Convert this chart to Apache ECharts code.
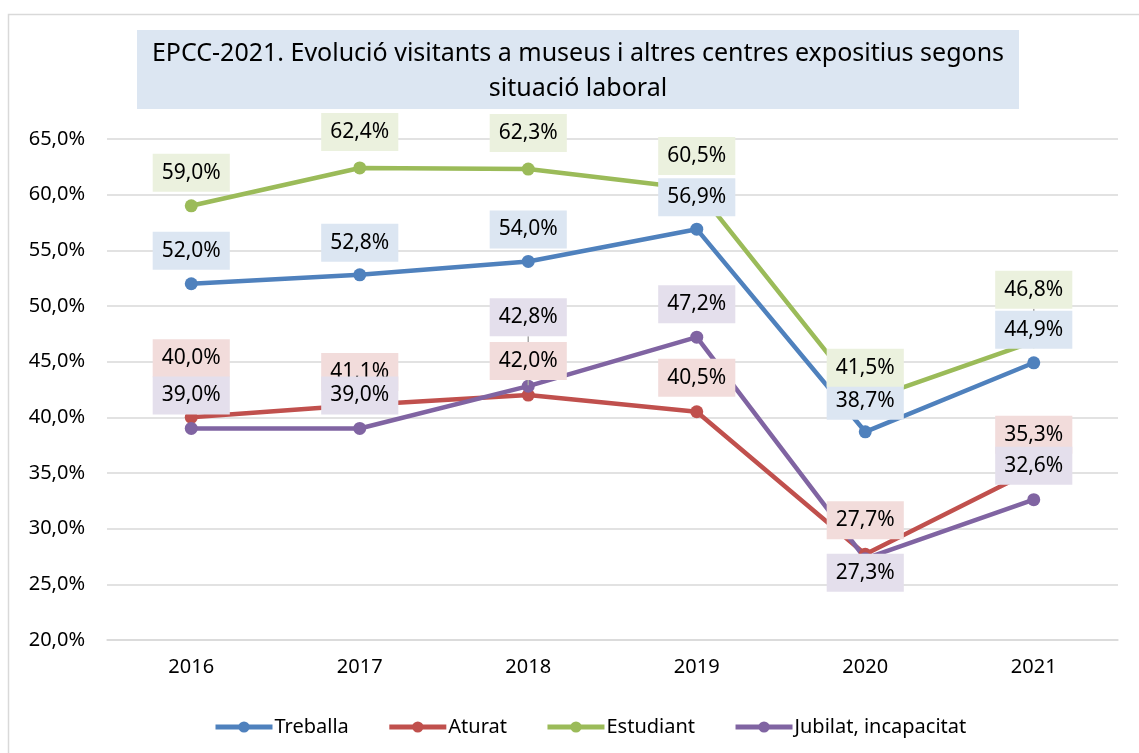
<!DOCTYPE html>
<html>
<head>
<meta charset="utf-8">
<script src="https://cdn.jsdelivr.net/npm/echarts@6/dist/echarts.min.js"></script>
<style>
html,body{margin:0;padding:0;background:#fff;}
#chart{width:1139px;height:753px;}
</style>
</head>
<body>
<div id="chart"></div>
<script>
var years = ['2016', '2017', '2018', '2019', '2020', '2021'];
var names = ['Treballa', 'Aturat', 'Estudiant', 'Jubilat, incapacitat'];
var treballa = [52.0, 52.8, 54.0, 56.9, 38.7, 44.9];
var aturat = [40.0, 41.1, 42.0, 40.5, 27.7, 35.3];
var estudiant = [59.0, 62.4, 62.3, 60.5, 41.5, 46.8];
var jubilat = [39.0, 39.0, 42.8, 47.2, 27.3, 32.6];

// colors de linia i fons d'etiqueta
var colors = ['#4F81BD', '#C0504D', '#9BBB59', '#8064A2'];
var labelBg = ['#DCE6F2', '#F2DCDB', '#EBF1DE', '#E4DFEC'];
// desplaçament vertical de cada etiqueta respecte al punt (px)
var labelDy = [
	[-33, -32, -32, -32, -31, -33],
	[-59, -33, -34, -34, -34, -35],
	[-33, -36, -36, -33, -33, -52],
	[-33, -33, -69, -33, 14, -34]
];
// etiquetes amb línia guia
var guide = [[], [], [5], [2]];

var allData = [treballa, aturat, estudiant, jubilat];

function fmt(v){
	return v.toFixed(1).replace('.', ',') + '%';
}

var font = '"Noto Sans", sans-serif';
var series = [];
// línies
for (var i = 0; i < 4; i++) {
	series.push({
		name: names[i],
		type: 'line',
		data: allData[i],
		z: 2,
		symbol: 'circle',
		symbolSize: 13,
		lineStyle: {width: 4.5, color: colors[i]},
		itemStyle: {color: colors[i]},
		label: {show: false},
		animation: false
	});
}
// etiquetes (per sobre de totes les línies)
for (var j = 0; j < 4; j++) {
	(function(s){
		var items = allData[s].map(function(v, k){
			var it = {value: [years[k], v]};
			if (guide[s].indexOf(k) >= 0) {
				it.labelLine = {show: true, lineStyle: {color: '#A6A6A6', width: 1.5}};
			}
			return it;
		});
		series.push({
			name: 'lbl' + s,
			type: 'scatter',
			data: items,
			z: 10,
			symbolSize: 2,
			itemStyle: {color: 'rgba(0,0,0,0)', opacity: 1},
			silent: true,
			label: {
				show: true,
				position: 'inside',
				formatter: function(p){ return fmt(p.value[1]); },
				fontFamily: font,
				fontSize: 21,
				lineHeight: 22,
				color: '#000',
				backgroundColor: labelBg[s],
				padding: [8, 9, 8, 9]
			},
			labelLine: {show: false, lineStyle: {color: '#A6A6A6', width: 1.5}},
			labelLayout: function(p){
				return {dy: labelDy[s][p.dataIndex]};
			},
			animation: false
		});
	})(j);
}

var chart = echarts.init(document.getElementById('chart'));
chart.setOption({
	backgroundColor: '#fff',
	animation: false,
	graphic: [
		{type: 'rect', shape: {x: 8.5, y: 14.5, width: 1200, height: 800}, style: {fill: 'none', stroke: '#D9D9D9', lineWidth: 1.5}, z: 0},
		{type: 'rect', shape: {x: 137, y: 30, width: 882, height: 79}, style: {fill: '#DCE6F2'}, z: 1},
		{type: 'text', x: 578, y: 36, z: 2, style: {
			text: 'EPCC-2021. Evolució visitants a museus i altres centres expositius segons\nsituació laboral',
			font: '25px ' + font, fill: '#000', textAlign: 'center', textVerticalAlign: 'top', lineHeight: 35
		}}
	],
	grid: {left: 107, right: 21, top: 139, bottom: 113},
	legend: {
		data: names,
		top: 712,
		left: 208,
		itemWidth: 57,
		itemHeight: 14,
		itemGap: 38,
		lineStyle: {width: 5},
		textStyle: {fontFamily: font, fontSize: 20, color: '#000', padding: [0, 0, 0, -3]}
	},
	xAxis: {
		type: 'category',
		data: years,
		boundaryGap: true,
		axisLine: {show: true, lineStyle: {color: '#D9D9D9', width: 1.5}},
		axisTick: {show: false},
		axisLabel: {fontFamily: font, fontSize: 20, color: '#000', margin: 17}
	},
	yAxis: {
		type: 'value',
		min: 20,
		max: 65,
		interval: 5,
		axisLine: {show: false},
		axisTick: {show: false},
		splitLine: {lineStyle: {color: '#D9D9D9', width: 1.5}},
		axisLabel: {fontFamily: font, fontSize: 20, color: '#000', margin: 22,
			formatter: function(v){ return fmt(v); }}
	},
	series: series
});
</script>
</body>
</html>
